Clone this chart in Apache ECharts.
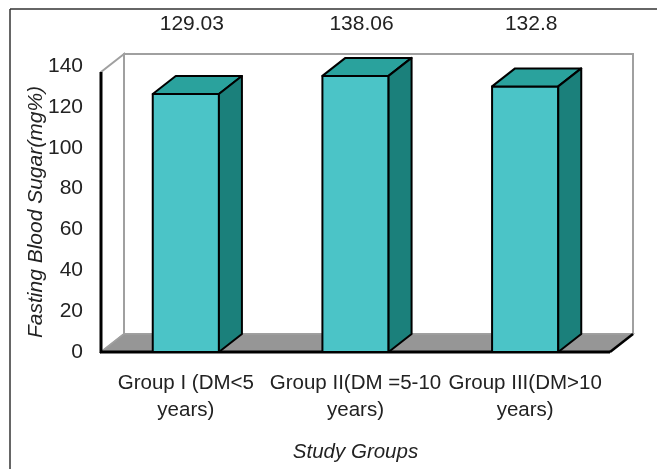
<!DOCTYPE html>
<html>
<head>
<meta charset="utf-8">
<script src="https://cdn.jsdelivr.net/npm/echarts@6/dist/echarts.min.js"></script>
<style>html,body{margin:0;padding:0;background:#fff}#c{width:657px;height:469px}</style>
</head>
<body>
<div id="c"></div>
<script>
var categories = ['Group I (DM<5\nyears)', 'Group II(DM =5-10\nyears)', 'Group III(DM>10\nyears)'];
var values = [129.03, 138.06, 132.8];
var valueLabels = ['129.03', '138.06', '132.8'];
var yTicks = [0, 20, 40, 60, 80, 100, 120, 140];

var DX = 23, DY = -18;
var FONT = 'Liberation Sans, Arial, sans-serif';
var FS = 21;
var chart = echarts.init(document.getElementById('c'));

function wallsRender(params, api) {
  var cs = params.coordSys;
  var x = cs.x, y = cs.y, w = cs.width, h = cs.height;
  var gray = '#a0a0a0';
  return {
    type: 'group',
    children: [
      {type: 'polygon', shape: {points: [[x, y], [x + DX, y + DY], [x + DX, y + h + DY], [x, y + h]]},
       style: {fill: '#fff', stroke: gray, lineWidth: 2}},
      {type: 'rect', shape: {x: x + DX, y: y + DY, width: w, height: h},
       style: {fill: '#fff', stroke: gray, lineWidth: 2}},
      {type: 'polygon', shape: {points: [[x, y + h], [x + DX, y + h + DY], [x + w + DX, y + h + DY], [x + w, y + h]]},
       style: {fill: '#969696', stroke: gray, lineWidth: 1.5}},
      {type: 'line', shape: {x1: x + w, y1: y + h, x2: x + w + DX, y2: y + h + DY},
       style: {stroke: '#000', lineWidth: 2.5}},
      {type: 'line', shape: {x1: x - 1, y1: y + h, x2: x + w, y2: y + h},
       style: {stroke: '#000', lineWidth: 3}},
      {type: 'line', shape: {x1: x, y1: y, x2: x, y2: y + h + 1},
       style: {stroke: '#000', lineWidth: 3}}
    ]
  };
}

function barRender(params, api) {
  var idx = api.value(0);
  var top = api.coord([idx, api.value(1)]);
  var base = api.coord([idx, 0]);
  var band = api.size([1, 0])[0];
  var bw = band * 0.39;
  var x0 = top[0] - bw / 2, x1 = top[0] + bw / 2;
  var yt = top[1], yb = base[1];
  var st = {stroke: '#000', lineWidth: 2, lineJoin: 'round'};
  return {
    type: 'group',
    children: [
      {type: 'rect', shape: {x: x0, y: yt, width: bw, height: yb - yt},
       style: Object.assign({fill: '#4bc4c7'}, st)},
      {type: 'polygon', shape: {points: [[x0, yt], [x0 + DX, yt + DY], [x1 + DX, yt + DY], [x1, yt]]},
       style: Object.assign({fill: '#2aa29d'}, st)},
      {type: 'polygon', shape: {points: [[x1, yt], [x1 + DX, yt + DY], [x1 + DX, yb + DY], [x1, yb]]},
       style: Object.assign({fill: '#1b807b'}, st)},
      {type: 'text', x: top[0] + 6, y: params.coordSys.y - 48,
       style: {text: valueLabels[idx], fill: '#222', font: FS + 'px ' + FONT, align: 'center', verticalAlign: 'middle'}}
    ]
  };
}

var option = {
  animation: false,
  backgroundColor: '#fff',
  grid: [
    {left: 101, width: 509, top: 72, height: 280},
    {left: 101, width: 509, top: 66, height: 286}
  ],
  xAxis: [
    {type: 'category', data: categories, gridIndex: 0,
     axisLine: {show: false}, axisTick: {show: false},
     axisLabel: {fontFamily: FONT, fontSize: 20.5, color: '#222', lineHeight: 27, margin: 18, interval: 0},
     name: 'Study Groups', nameLocation: 'middle', nameGap: 90,
     nameTextStyle: {fontFamily: FONT, fontSize: 20.5, fontStyle: 'italic', color: '#222'}},
    {type: 'category', data: categories, gridIndex: 1, show: false}
  ],
  yAxis: [
    {type: 'value', gridIndex: 0, min: 0, max: 140, interval: 20,
     axisLine: {show: false}, axisTick: {show: false}, axisLabel: {show: false}, splitLine: {show: false},
     name: 'Fasting Blood Sugar(mg%)', nameLocation: 'middle', nameGap: 54,
     nameTextStyle: {fontFamily: FONT, fontSize: FS, fontStyle: 'italic', color: '#222'}},
    {type: 'value', gridIndex: 1, min: yTicks[0], max: yTicks[yTicks.length - 1], interval: 20,
     axisLine: {show: false}, axisTick: {show: false}, splitLine: {show: false},
     axisLabel: {fontFamily: FONT, fontSize: FS, color: '#222', margin: 18}}
  ],
  graphic: [
    {type: 'line', shape: {x1: 10, y1: 9, x2: 10, y2: 469}, style: {stroke: '#333', lineWidth: 1.5}},
    {type: 'line', shape: {x1: 10, y1: 9, x2: 657, y2: 9}, style: {stroke: '#333', lineWidth: 1.5}}
  ],
  series: [
    {type: 'custom', xAxisIndex: 0, yAxisIndex: 0, renderItem: wallsRender, data: [[0, 0]], z: 1, silent: true},
    {type: 'custom', xAxisIndex: 0, yAxisIndex: 0, renderItem: barRender, z: 2, silent: true,
     data: values.map(function (v, i) { return [i, v]; })}
  ]
};
chart.setOption(option);
</script>
</body>
</html>
